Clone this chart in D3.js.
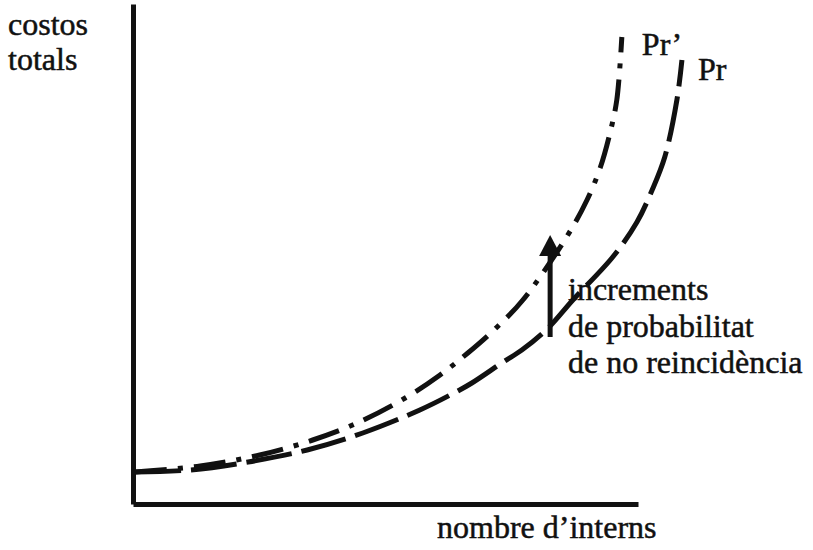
<!DOCTYPE html>
<html lang='ca'>
<head>
    <meta charset='UTF-8'>
    <title>costos totals</title>
    <script src='https://d3js.org/d3.v7.min.js' charset='utf-8'></script>
    <style>
        body { margin: 0; background: #fff; overflow: hidden; }
        text { font-family: 'Liberation Serif', 'DejaVu Serif', serif; font-size: 32px; fill: #111; stroke: #111; stroke-width: 0.5px; }
        .axis path { stroke: #111; stroke-width: 5px; }
    </style>
</head>
<body>
    <div id='chart'></div>
    <script>
        'use strict';

        // Pr: dashed curve
        const prX = [0.4, 11.3, 22.8, 34.5, 45.5, 56.8, 63.2, 67.1, 73.3, 77.0, 82.2, 87.1, 95.0, 99.8, 102.8, 105.3, 107.7, 108.7];
        const prY = [6.4, 6.8, 8.4, 10.8, 14.2, 18.8, 22.0, 24.2, 28.4, 30.8, 35.2, 40.8, 49.4, 56.4, 62.8, 69.4, 80.8, 88.8];
        // Pr': dash-dot curve
        const prPrimeX = [0.4, 13.3, 25.1, 35.6, 44.4, 53.9, 60.8, 66.3, 72.1, 77.2, 86.1, 89.9, 92.5, 94.5, 95.8, 96.8];
        const prPrimeY = [6.4, 7.6, 9.8, 12.8, 16.2, 21.2, 25.8, 30.2, 35.4, 40.8, 53.8, 60.8, 67.2, 74.4, 80.8, 93.4];
        // arrow: increase in probability
        const arrowX = 82.6;
        const arrowY = [33.4, 53.8];

        const yLabel = ['costos', 'totals'];
        const xLabel = 'nombre d\u2019interns';
        const noteLines = ['increments', 'de probabilitat', 'de no reincid\u00e8ncia'];

        const width = 813, height = 550;

        const svg = d3.select('#chart')
            .append('svg')
            .attr('width', width)
            .attr('height', height);

        const x = d3.scaleLinear().domain([0, 100]).range([133, 638]);
        const y = d3.scaleLinear().domain([0, 100]).range([504, 4]);

        svg.append('g')
            .attr('class', 'axis')
            .attr('transform', `translate(0, ${y(0)})`)
            .call(d3.axisBottom(x).ticks(0).tickSizeOuter(0));
        svg.append('g')
            .attr('class', 'axis')
            .attr('transform', `translate(${x(0)}, 0)`)
            .call(d3.axisLeft(y).ticks(0).tickSizeOuter(0));

        const line = d3.line()
            .x(d => x(d[0]))
            .y(d => y(d[1]))
            .curve(d3.curveCatmullRom.alpha(0.5));

        const pr = prX.map((v, i) => [v, prY[i]]);
        const prPrime = prPrimeX.map((v, i) => [v, prPrimeY[i]]);

        svg.append('path')
            .datum(pr)
            .attr('d', line)
            .attr('fill', 'none')
            .attr('stroke', '#111')
            .attr('stroke-width', 5)
            .attr('stroke-dasharray', '46 10');

        svg.append('path')
            .datum(prPrime)
            .attr('d', line)
            .attr('fill', 'none')
            .attr('stroke', '#111')
            .attr('stroke-width', 5)
            .attr('stroke-dasharray', '32 11 5 11');

        // arrow
        const ax = x(arrowX), y0 = y(arrowY[0]), y1 = y(arrowY[1]);
        svg.append('line')
            .attr('x1', ax).attr('x2', ax)
            .attr('y1', y0).attr('y2', y1 + 18)
            .attr('stroke', '#111')
            .attr('stroke-width', 5);
        svg.append('path')
            .attr('d', `M${ax},${y1} L${ax - 11},${y1 + 21} L${ax + 11},${y1 + 21} Z`)
            .attr('fill', '#111');

        // texts
        svg.selectAll('.ylab')
            .data(yLabel)
            .enter()
            .append('text')
            .attr('x', 8)
            .attr('y', (d, i) => 35 + i * 35)
            .text(d => d);

        svg.append('text')
            .attr('x', 437)
            .attr('y', 538)
            .text(xLabel);

        svg.append('text')
            .attr('x', x(prPrimeX[prPrimeX.length - 1]) + 20)
            .attr('y', 55)
            .text('Pr\u2019');
        svg.append('text')
            .attr('x', x(prX[prX.length - 1]) + 16)
            .attr('y', 80)
            .text('Pr');

        svg.selectAll('.note')
            .data(noteLines)
            .enter()
            .append('text')
            .attr('x', 568)
            .attr('y', (d, i) => 300 + i * 36.5)
            .text(d => d);
    </script>
</body>
</html>
